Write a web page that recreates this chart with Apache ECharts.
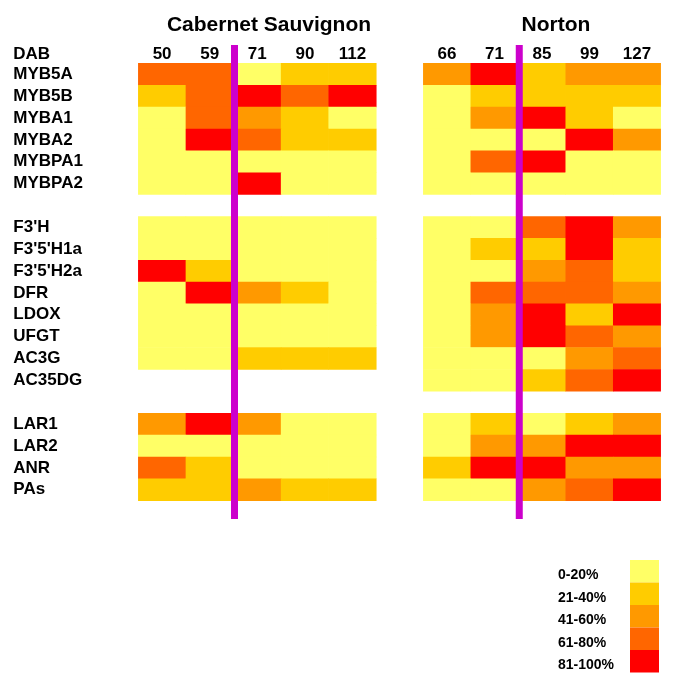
<!DOCTYPE html>
<html><head><meta charset="utf-8">
<script src="https://cdn.jsdelivr.net/npm/echarts@6/dist/echarts.min.js"></script>
<style>html,body{margin:0;padding:0;background:#fff}#c{width:685px;height:694px}</style>
</head><body><div id="c"></div>
<script>
// Row categories (blank entries are the gaps between gene groups)
const genes = ['MYB5A','MYB5B','MYBA1','MYBA2','MYBPA1','MYBPA2',' ',"F3'H","F3'5'H1a","F3'5'H2a",'DFR','LDOX','UFGT','AC3G','AC35DG','  ','LAR1','LAR2','ANR','PAs'];
const cabDAB = ['50','59','71','90','112'];
const nortonDAB = ['66','71','85','99','127'];
// Expression class per cell: 1=0-20%, 2=21-40%, 3=41-60%, 4=61-80%, 5=81-100%; null = no data
const cabLevels = [
  [4,4,1,2,2],
  [2,4,5,4,5],
  [1,4,3,2,1],
  [1,5,4,2,2],
  [1,1,1,1,1],
  [1,1,5,1,1],
  null,
  [1,1,1,1,1],
  [1,1,1,1,1],
  [5,2,1,1,1],
  [1,5,3,2,1],
  [1,1,1,1,1],
  [1,1,1,1,1],
  [1,1,2,2,2],
  null,
  null,
  [3,5,3,1,1],
  [1,1,1,1,1],
  [4,2,1,1,1],
  [2,2,3,2,2]
];
const nortonLevels = [
  [3,5,2,3,3],
  [1,2,2,2,2],
  [1,3,5,2,1],
  [1,1,1,5,3],
  [1,4,5,1,1],
  [1,1,1,1,1],
  null,
  [1,1,4,5,3],
  [1,2,2,5,2],
  [1,1,3,4,2],
  [1,4,4,4,3],
  [1,3,5,2,5],
  [1,3,5,4,3],
  [1,1,1,3,4],
  [1,1,2,4,5],
  null,
  [1,2,1,2,3],
  [1,3,3,5,5],
  [2,5,5,3,3],
  [1,1,3,4,5]
];
const levelValues = [1,2,3,4,5];
const levelLabels = ['0-20%','21-40%','41-60%','61-80%','81-100%'];
const levelColors = ['#ffff66','#ffcc00','#ff9900','#ff6600','#ff0000'];
const titles = ['Cabernet Sauvignon','Norton'];

const FONT = "'Liberation Sans', Arial, Helvetica, sans-serif";

function toCells(levels){
  const out = [];
  levels.forEach((row, r) => {
    if (!row) return;
    row.forEach((v, c) => { if (v != null) out.push([c, r, v]); });
  });
  return out;
}

const chart = echarts.init(document.getElementById('c'), null, {renderer:'canvas'});
const grids = [
  {left:138.3, top:63.3, width:238, height:437.4},
  {left:423.3, top:63.3, width:237.4, height:437.4}
];
function xAxisFor(i, cats){
  return {
    type:'category', gridIndex:i, data:cats, position:'top',
    axisLine:{show:false}, axisTick:{show:false}, splitLine:{show:false},
    axisLabel:{show:true, interval:0, margin:9, verticalAlign:'middle', color:'#000', fontWeight:'bold', fontSize:17, fontFamily:FONT}
  };
}
function yAxisFor(i, showLabels){
  return {
    type:'category', gridIndex:i, data:genes, inverse:true,
    axisLine:{show:false}, axisTick:{show:false}, splitLine:{show:false},
    axisLabel:{show:showLabels, interval:0, align:'left', margin:125, color:'#000', fontWeight:'bold', fontSize:17, fontFamily:FONT}
  };
}

chart.setOption({
  backgroundColor:'#fff',
  animation:false,
  title:[
    {text:titles[0], left:264, top:10, textAlign:'center', textStyle:{fontSize:21, fontWeight:'bold', color:'#000', fontFamily:FONT}},
    {text:titles[1], left:551, top:10, textAlign:'center', textStyle:{fontSize:21, fontWeight:'bold', color:'#000', fontFamily:FONT}}
  ],
  grid:grids,
  xAxis:[xAxisFor(0, cabDAB), xAxisFor(1, nortonDAB)],
  yAxis:[yAxisFor(0, true), yAxisFor(1, false)],
  visualMap:{
    type:'piecewise', show:false, dimension:2, seriesIndex:[0,1],
    pieces: levelValues.map((v,i)=>({value:v, label:levelLabels[i], color:levelColors[i]}))
  },
  series:[
    {type:'heatmap', xAxisIndex:0, yAxisIndex:0, data:toCells(cabLevels), itemStyle:{borderWidth:0}, emphasis:{disabled:true}},
    {type:'heatmap', xAxisIndex:1, yAxisIndex:1, data:toCells(nortonLevels), itemStyle:{borderWidth:0}, emphasis:{disabled:true}}
  ]
});

// Decorations: DAB header, magenta véraison lines, legend
const graphics = [];
graphics.push({type:'text', left:13.3, top:46, style:{text:'DAB', fontSize:17, fontWeight:'bold', fill:'#000', fontFamily:FONT}, z:10});
[0,1].forEach(g => {
  const p1 = chart.convertToPixel({xAxisIndex:g}, 1);
  const p2 = chart.convertToPixel({xAxisIndex:g}, 2);
  const x = (p1 + p2) / 2 + 1;
  graphics.push({type:'rect', shape:{x:x-3.5, y:45, width:7, height:474}, style:{fill:'#cc00cc'}, z:20});
});
const lgTop = 560, lgH = 22.5;
levelLabels.forEach((lab, i) => {
  graphics.push({type:'rect', shape:{x:630, y:lgTop + i*lgH, width:29, height:lgH}, style:{fill:levelColors[i]}, z:10});
  graphics.push({type:'text', x:558, y:lgTop + i*lgH + lgH/2 + 4, style:{text:lab, fontSize:14, fontWeight:'bold', fill:'#000', fontFamily:FONT, textVerticalAlign:'middle', verticalAlign:'middle'}, z:10});
});
chart.setOption({graphic:graphics});
</script>
</body></html>
